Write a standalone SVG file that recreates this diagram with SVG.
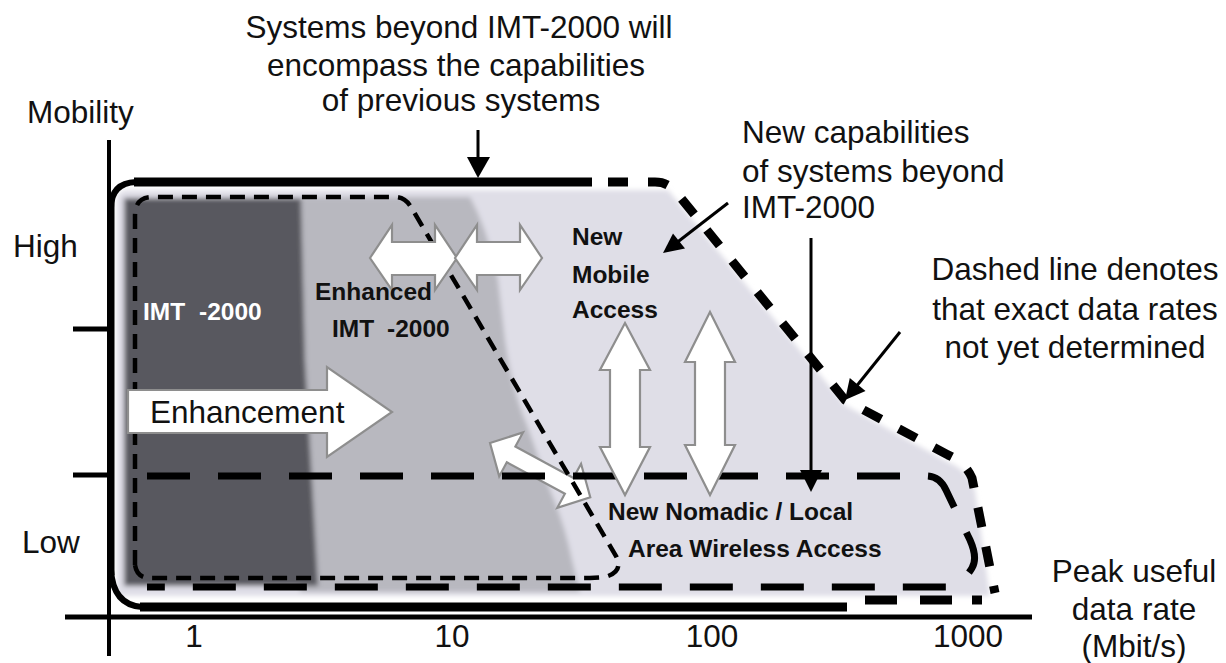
<svg xmlns="http://www.w3.org/2000/svg" width="1226" height="663" viewBox="0 0 1226 663">
<defs>
<style>
text{font-family:"Liberation Sans",Arial,sans-serif;fill:#111}
.lbl{font-size:31.5px}
.mid{text-anchor:middle}
.b{font-size:24.5px;font-weight:bold}
.wt{fill:#fff}
.wa{fill:#fff;stroke:#8e8e8e;stroke-width:2.2;stroke-linejoin:miter}
.ln{stroke:#000;fill:none}
.thin{stroke:#000;fill:none;stroke-width:4.5;stroke-dasharray:15 9}
.nom{stroke:#000;fill:none;stroke-width:7;stroke-dasharray:43 28}
.outer{stroke:#000;fill:none;stroke-width:9;stroke-dasharray:20 20}
.arr{stroke:#000;stroke-width:3;fill:none}
.hd{fill:#000}
</style>
<filter id="soft" x="-5%" y="-5%" width="110%" height="110%"><feGaussianBlur stdDeviation="2.5"/></filter>
</defs>
<rect width="1226" height="663" fill="#fff"/>

<g id="regions" filter="url(#soft)">
  <path d="M117,200 Q117,190 128,190 H668 L845,405 L948,462 Q968,470 975,490 L990,596 H117 Z" fill="#dfdee7"/>
  <path d="M300,197 H470 Q488,230 498,280 L505,340 Q512,390 527,425 L550,490 Q565,525 572,560 L580,592 H300 Z" fill="#b8b8bf"/>
  <path d="M124,198 H301 L305,360 L318,586 H124 Z" fill="#58585e"/>
</g>

<g id="axes">
  <line class="ln" x1="109" y1="140" x2="109" y2="656" stroke-width="4"/>
  <line class="ln" x1="65" y1="617" x2="1032" y2="617" stroke-width="5"/>
  <line class="ln" x1="73" y1="329" x2="109" y2="329" stroke-width="5"/>
  <line class="ln" x1="73" y1="475" x2="109" y2="475" stroke-width="5"/>
</g>

<g id="frame">
  <line class="ln" x1="112" y1="200" x2="112" y2="575" stroke-width="5"/>
  <path class="ln" d="M111,208 Q111,183 136,182" stroke-width="6"/>
  <line class="ln" x1="134" y1="182" x2="592" y2="182" stroke-width="9"/>
  <path class="ln" d="M111,570 Q113,605 142,607" stroke-width="6"/>
  <line class="ln" x1="140" y1="607" x2="847" y2="607" stroke-width="9"/>
</g>

<g id="connectors-diagonal">
  <polygon class="wa" transform="translate(490,443) rotate(28.4)" points="0,0 24,-25 24,-9 90,-9 90,-25 114,0 90,25 90,9 24,9 24,25"/>
</g>

<g id="boundaries">
  <path class="thin" d="M135,565 V216 Q135,197 152,197 H395 Q405,197 411,207 L616,556 Q624,572 605,577 L590,578 H150 Q137,578 135,565"/>
  <path class="nom" d="M147,476 H928 Q940,477 946,490 L970,540 Q978,558 972,568 Q964,582 948,587 H147"/>
  <path class="outer" d="M608,182 H655 Q668,182 676,192 L845,400 L948,455 Q965,462 972,478 L995,593"/>
  <line class="ln" x1="865" y1="600" x2="897" y2="600" stroke-width="9"/>
  <line class="ln" x1="920" y1="600" x2="952" y2="600" stroke-width="9"/>
  <line class="ln" x1="972" y1="600" x2="982" y2="600" stroke-width="9"/>
</g>

<g id="connectors">
  <polygon class="wa" points="370,258 392,225 392,242 435,242 435,225 457,258 435,290 435,275 392,275 392,290"/>
  <polygon class="wa" points="455,258 477,225 477,242 520,242 520,225 542,258 520,290 520,275 477,275 477,290"/>
  <polygon class="wa" points="625,323 650,370 640,370 640,447 650,447 625,495 600,447 610,447 610,370 600,370"/>
  <polygon class="wa" points="710,312 735,362 725,362 725,445 735,445 710,495 685,445 695,445 695,362 685,362"/>
  <polygon class="wa" points="128,390 327,390 327,367 392,412 327,457 327,433 128,433"/>
  <line class="arr" x1="478" y1="130" x2="478" y2="160"/>
  <polygon class="hd" points="467,157 490,157 478,178"/>
  <line class="arr" x1="728" y1="203" x2="675" y2="244"/>
  <polygon class="hd" points="663,253 673,233.5 685,248.5"/>
  <line class="arr" x1="811" y1="238" x2="811" y2="472"/>
  <polygon class="hd" points="800,470 822,470 811,492"/>
  <line class="arr" x1="900" y1="332" x2="855" y2="388"/>
  <polygon class="hd" points="845,400 849.8,378 865.5,391"/>
</g>

<g id="node-imt2000">
  <text class="b wt" x="143" y="320" word-spacing="7">IMT -2000</text>
</g>
<g id="node-enhanced">
  <text class="b" x="315" y="300">Enhanced</text>
  <text class="b" x="332" y="337" word-spacing="6">IMT -2000</text>
</g>
<g id="node-mobile">
  <text class="b" x="572" y="245">New</text>
  <text class="b" x="572" y="283">Mobile</text>
  <text class="b" x="572" y="318">Access</text>
</g>
<g id="node-nomadic">
  <text class="b" x="608" y="520">New Nomadic / Local</text>
  <text class="b" x="628" y="557">Area Wireless Access</text>
</g>
<g id="node-enhancement">
  <text class="lbl" x="150" y="423">Enhancement</text>
</g>

<g id="labels">
  <text class="lbl mid" x="459" y="38">Systems beyond IMT-2000 will</text>
  <text class="lbl mid" x="456" y="76">encompass the capabilities</text>
  <text class="lbl mid" x="461" y="111">of previous systems</text>
  <text class="lbl" x="742" y="143">New capabilities</text>
  <text class="lbl" x="742" y="182">of systems beyond</text>
  <text class="lbl" x="742" y="218">IMT-2000</text>
  <text class="lbl mid" x="1075" y="280">Dashed line denotes</text>
  <text class="lbl mid" x="1075" y="320">that exact data rates</text>
  <text class="lbl mid" x="1075" y="358">not yet determined</text>
  <text class="lbl" x="27" y="123">Mobility</text>
  <text class="lbl" x="13" y="257">High</text>
  <text class="lbl" x="22" y="553">Low</text>
  <text class="lbl mid" x="1134" y="582">Peak useful</text>
  <text class="lbl mid" x="1134" y="620">data rate</text>
  <text class="lbl mid" x="1134" y="657">(Mbit/s)</text>
  <text class="lbl mid" x="194" y="647">1</text>
  <text class="lbl mid" x="452" y="647">10</text>
  <text class="lbl mid" x="712" y="647">100</text>
  <text class="lbl mid" x="968" y="647">1000</text>
</g>
</svg>
